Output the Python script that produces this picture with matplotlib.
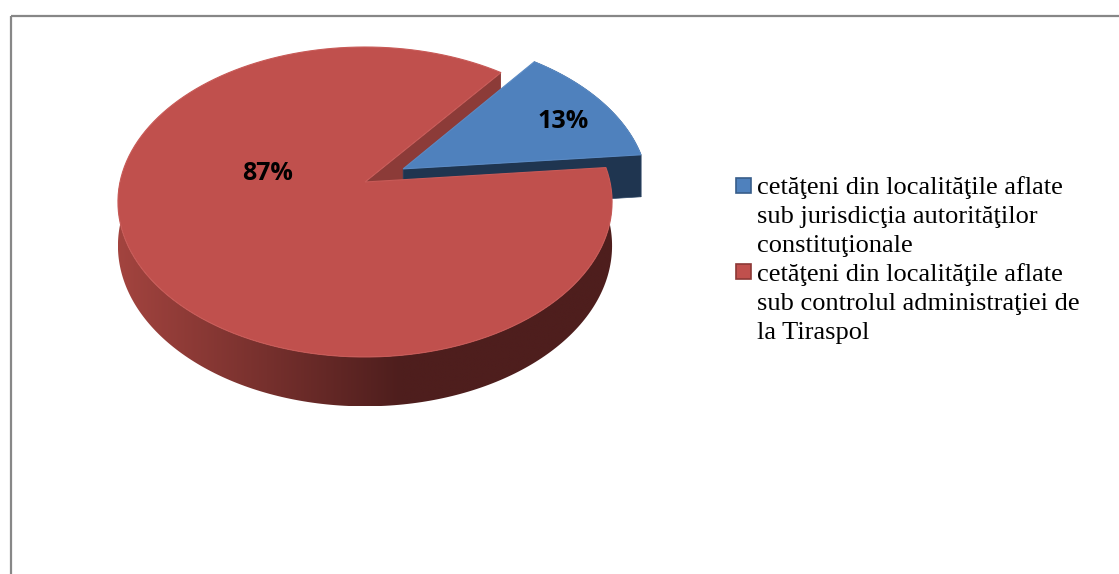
import numpy as np
import matplotlib.pyplot as plt
from matplotlib.patches import Rectangle, Polygon
from matplotlib.colors import to_rgb

# date
etichete = ['cetăţeni din localităţile aflate\nsub jurisdicţia autorităţilor\nconstituţionale',
            'cetăţeni din localităţile aflate\nsub controlul administraţiei de\nla Tiraspol']
procente = [13, 87]
texte_proc = ['13%', '87%']
culori_sus = ['#4F81BD', '#C0504D']
culori_margine = ['#385D8A', '#8C3836']
explodare = [0.18, 0.0]

# geometrie pie 3D (pixeli)
CX, CY, RX, RY, K, H = 365, 182, 245, 152.4, 0.129, 43
START = 5.5


def proj(u, v, z=0.0):
    s = 1.0 / (1.0 + K * v)
    return CX + RX * u * s, CY - RY * v * s + H * z * s


fig = plt.figure(figsize=(11.19, 5.74), dpi=100)
ax = fig.add_axes([0, 0, 1, 1])
ax.set_xlim(0, 1119)
ax.set_ylim(574, 0)
ax.axis('off')

# unghiuri felii
unghiuri = START + 360 * np.concatenate([[0], np.cumsum(procente)]) / sum(procente)
felii = []
for i in range(len(procente)):
    t0, t1 = unghiuri[i], unghiuri[i + 1]
    mid = np.radians((t0 + t1) / 2)
    off = (explodare[i] * np.cos(mid), explodare[i] * np.sin(mid))
    felii.append((t0, t1, off))


def fata_sus(t0, t1, off):
    th = np.radians(np.linspace(t0, t1, 150))
    u = np.r_[off[0], off[0] + np.cos(th)]
    v = np.r_[off[1], off[1] + np.sin(th)]
    return proj(u, v)


def fata_radiala(t, off):
    th = np.radians(t)
    u = np.array([off[0], off[0] + np.cos(th), off[0] + np.cos(th), off[0]])
    v = np.array([off[1], off[1] + np.sin(th), off[1] + np.sin(th), off[1]])
    z = np.array([0, 0, 1, 1])
    return proj(u, v, z)


def contur_margine(t0, t1, off, n=200):
    th = np.radians(np.linspace(t0, t1, n))
    u = off[0] + np.cos(th)
    v = off[1] + np.sin(th)
    xs, ys = proj(u, v, 0)
    xb, yb = proj(u, v, 1)
    return np.r_[xs, xb[::-1]], np.r_[ys, yb[::-1]]


b0, b1, boff = felii[0]
r0, r1, roff = felii[1]

# fata radiala rosie (spre golul feliei albastre)
x, y = fata_radiala(r0, roff)
ax.fill(x, y, color='#8C3B38', lw=0)

# felia albastra
x, y = contur_margine(b0, b1, boff)
ax.fill(x, y, color='#1F3550', lw=0.5, ec='#1F3550')
x, y = fata_radiala(b0, boff)
ax.fill(x, y, color='#1F3550', lw=0.5, ec='#2A4566')
x, y = fata_sus(b0, b1, boff)
ax.fill(x, y, color=culori_sus[0], lw=0.8, ec='#5A8AC4')

# felia rosie - margine cu gradient
x, y = contur_margine(180, r1, roff)
poli = Polygon(np.c_[x, y], closed=True, fc='none', ec='none')
ax.add_patch(poli)
lumina = np.array(to_rgb('#A3443F'))
umbra = np.array(to_rgb('#4E1E1D'))
xs = np.linspace(x.min(), x.max(), 400)
t = np.clip((xs - 117) / (400 - 117), 0, 1)[:, None]
grad = (lumina * (1 - t) + umbra * t)[None, :, :]
img = ax.imshow(grad, extent=[x.min(), x.max(), y.max(), y.min()],
                aspect='auto', interpolation='bilinear', zorder=1)
img.set_clip_path(poli)

x, y = fata_sus(r0, r1, roff)
ax.fill(x, y, color=culori_sus[1], lw=0.8, ec='#C85A57', zorder=2)

# etichete procente
ax.text(563, 122, texte_proc[0], ha='center', va='center', fontsize=18,
        fontweight='bold', family='Open Sans', color='black', zorder=3)
ax.text(268, 173, texte_proc[1], ha='center', va='center', fontsize=18,
        fontweight='bold', family='Open Sans', color='black', zorder=3)

# legenda
for i, y0 in enumerate([178, 264]):
    ax.add_patch(Rectangle((736, y0), 15, 15, facecolor=culori_sus[i],
                           edgecolor=culori_margine[i], lw=1.2))
for eti, yt in zip(etichete, [176, 263]):
    ax.text(757, yt, eti, ha='left', va='top', fontsize=19,
            family='Liberation Serif', linespacing=1.42, color='black')

# chenar
ax.plot([10.5, 1119], [15.5, 15.5], color='#878787', lw=1.6, solid_capstyle='butt')
ax.plot([10.5, 10.5], [15.5, 574], color='#878787', lw=1.6, solid_capstyle='butt')

ax.set_xlim(0, 1119)
ax.set_ylim(574, 0)
fig.savefig('out.png', dpi=100)
